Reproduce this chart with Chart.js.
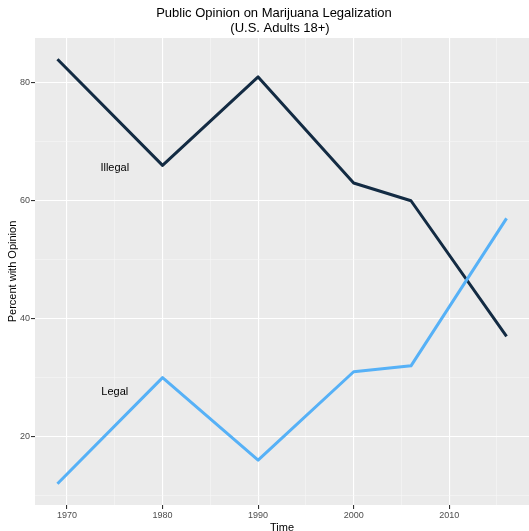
<!DOCTYPE html>
<html lang="en">

<head>
    <meta charset="UTF-8">
    <script src="https://cdn.jsdelivr.net/npm/chart.js"></script>
    <title>Public Opinion on Marijuana Legalization</title>
    <style>
        body { margin: 0; background: #fff; }
        canvas { display: block; }
    </style>
</head>

<body>
    <canvas id="opinionChart" width="529" height="531"></canvas>

    <script>
        // data
        const years = [1969, 1980, 1990, 2000, 2006, 2016];
        const illegal = [84, 66, 81, 63, 60, 37];
        const legal = [12, 30, 16, 31, 32, 57];

        // text labels placed inside the panel
        const labelNames = ['Illegal', 'Legal'];
        const labelYears = [1975, 1975];
        const labelValues = [65.5, 27.6];

        const xBreaks = [1970, 1975, 1980, 1985, 1990, 1995, 2000, 2005, 2010, 2015];
        const yBreaks = [10, 20, 30, 40, 50, 60, 70, 80];
        const titleLines = ['Public Opinion on Marijuana Legalization', '(U.S. Adults 18+)'];

        const font = "'Liberation Sans', Arial, sans-serif";

        // ggplot-like grey panel
        const panelBackground = {
            id: 'panelBackground',
            beforeDraw(chart) {
                const { ctx, chartArea: a } = chart;
                ctx.save();
                ctx.fillStyle = '#EBEBEB';
                ctx.fillRect(a.left, a.top, a.right - a.left, a.bottom - a.top);
                ctx.restore();
            }
        };

        // title + text annotations
        const textLayer = {
            id: 'textLayer',
            afterDraw(chart) {
                const { ctx, scales } = chart;
                ctx.save();
                ctx.textAlign = 'center';
                ctx.textBaseline = 'middle';
                ctx.fillStyle = '#000';
                ctx.font = '13px ' + font;
                ctx.fillText(titleLines[0], 274, 13);
                ctx.fillText(titleLines[1], 280, 28);

                ctx.font = '11px ' + font;
                labelNames.forEach((name, i) => {
                    ctx.fillText(name, scales.x.getPixelForValue(labelYears[i]), scales.y.getPixelForValue(labelValues[i]));
                });
                ctx.restore();
            }
        };

        const isMajor = v => v % 20 === 0 || (v > 1900 && v % 10 === 0);

        const gridOpts = {
            color: c => isMajor(c.tick.value) ? '#FFFFFF' : '#F7F7F7',
            lineWidth: c => isMajor(c.tick.value) ? 1.1 : 0.55,
            tickColor: c => isMajor(c.tick.value) ? '#333333' : 'rgba(0,0,0,0)',
            tickLength: 4,
            drawTicks: true
        };

        new Chart(document.getElementById('opinionChart'), {
            type: 'line',
            data: {
                datasets: [
                    {
                        label: 'Illegal',
                        data: years.map((y, i) => ({ x: y, y: illegal[i] })),
                        borderColor: '#132B43',
                        borderWidth: 3,
                        borderJoinStyle: 'round',
                        pointRadius: 0,
                        order: 1
                    },
                    {
                        label: 'Legal',
                        data: years.map((y, i) => ({ x: y, y: legal[i] })),
                        borderColor: '#56B1F7',
                        borderWidth: 3,
                        borderJoinStyle: 'round',
                        pointRadius: 0,
                        order: 0
                    }
                ]
            },
            options: {
                responsive: false,
                animation: false,
                layout: { padding: { top: 38, right: 0, left: 0, bottom: 0 } },
                plugins: {
                    legend: { display: false },
                    tooltip: { enabled: false }
                },
                scales: {
                    x: {
                        type: 'linear',
                        min: 1966.65,
                        max: 2018.35,
                        afterBuildTicks: s => { s.ticks = xBreaks.map(v => ({ value: v })); },
                        afterFit: s => { s.height = 26; },
                        grid: gridOpts,
                        border: { display: false },
                        ticks: {
                            autoSkip: false,
                            maxRotation: 0,
                            padding: 1,
                            color: '#4D4D4D',
                            font: { family: font, size: 9 },
                            callback: v => v % 10 === 0 ? String(v) : ''
                        },
                        title: {
                            display: true,
                            text: 'Time',
                            color: '#000',
                            font: { family: font, size: 11 },
                            padding: { top: 0, bottom: -4 }
                        }
                    },
                    y: {
                        min: 8.4,
                        max: 87.6,
                        afterBuildTicks: s => { s.ticks = yBreaks.map(v => ({ value: v })); },
                        afterFit: s => { s.width = 35; },
                        grid: gridOpts,
                        border: { display: false },
                        ticks: {
                            autoSkip: false,
                            padding: 1,
                            color: '#4D4D4D',
                            font: { family: font, size: 9 },
                            callback: v => v % 20 === 0 ? String(v) : ''
                        },
                        title: {
                            display: true,
                            text: 'Percent with Opinion',
                            color: '#000',
                            font: { family: font, size: 11 },
                            padding: { top: 6, bottom: 0 }
                        }
                    }
                }
            },
            plugins: [panelBackground, textLayer]
        });
    </script>
</body>

</html>
